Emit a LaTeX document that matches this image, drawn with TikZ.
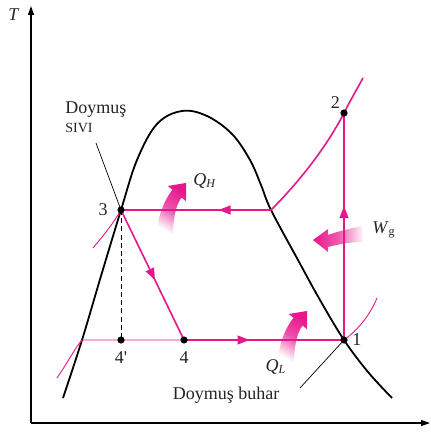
\documentclass[tikz,border=0pt]{standalone}
\usepackage{fontspec}
\setmainfont{Liberation Serif}
\usepackage{xcolor}
\usepackage{tikz}
\usetikzlibrary{arrows.meta,positioning,decorations.markings}
\definecolor{cycpink}{RGB}{231,22,139}
\definecolor{ink}{RGB}{35,35,40}

\tikzset{
  heatflow/.pic={
    \shade[top color=cycpink, bottom color=white, middle color=cycpink!75, shading angle=-30]
      (-13,52) .. controls (-13,37) and (-10.5,22) .. (-4.4,14.6) -- (0.2,18.4) -- (0,0)
      -- (-18.2,3) -- (-13.6,6.8) .. controls (-20,15) and (-29,32) .. (-29,52) -- cycle;
  }
}

\begin{document}
\begin{tikzpicture}[x=0.5pt, y=-0.5pt, font=\fontsize{9}{11}\selectfont,
  cycleline/.style={cycpink, line width=0.8pt},
  isobar/.style={cycpink, line width=0.45pt},
  state/.style={circle, fill=black, inner sep=0pt, minimum size=3.6pt},
  lbl/.style={inner sep=0.5pt, text=ink},
  leader/.style={black, line width=0.35pt},
  axis/.style={black, line width=0.6pt, -{Triangle[length=4.5pt,width=3pt]}},
  midtip/.style={postaction={decorate}, decoration={markings,
    mark=at position #1 with {\arrow{Triangle[length=6pt,width=4.4pt]}}}}]
\useasboundingbox (0,0) rectangle (430,448);
% heat and work arrows, behind the lines
\pic at (186,183) {heatflow};
\pic at (307,311) {heatflow};
\shade[left color=cycpink, right color=white, middle color=cycpink!70]
  (362,226) .. controls (348,229) and (336,232) .. (328,235) -- (328,229) -- (313,240)
  -- (328,252) -- (328,247) .. controls (340,244) and (350,242) .. (364,242) -- cycle;
% axes
\coordinate (o) at (31,423);
\coordinate (ty) at (31,6);
\coordinate (sx) at (430,423);
\draw[axis] (o) -- (ty);
\draw[axis] (o) -- (sx);
\node[lbl] (tlab) at (14,15) {\textit{T}};
% saturation dome
\draw[black, line width=0.9pt] plot[smooth, tension=0.6] coordinates {(63,398) (82,340)
  (101,276) (121,210) (137,160) (157,124) (182,111) (207,116) (232,134) (250,160)
  (261,185) (271,210) (298,260) (320,300) (344,340) (368,372) (392,398)};
% states
\coordinate (s1) at (344,340);
\coordinate (s2) at (344,113);
\coordinate (s3) at (121,210);
\coordinate (s4) at (184,340);
\coordinate (s4p) at (121,340);
\coordinate (g3) at (271,210);
\coordinate (f4) at (82,340);
\coordinate (sh) at (363,78);
% cycle
\draw[cycleline, midtip=0.59] (s1) -- (s2);
\draw[cycleline] (g3) .. controls (296,185) and (325,150) .. (s2)
  .. controls (350,101) and (357,89) .. (sh);
\draw[cycleline, midtip=0.35] (g3) -- (s3);
\draw[cycleline, midtip=0.54] (s3) -- (s4);
\draw[cycleline, midtip=0.41] (s4) -- (s1);
\draw[isobar] (57,378) .. controls (68,362) and (75,348) .. (f4) -- (s4);
\draw[isobar] (93,248) .. controls (103,236) and (113,224) .. (s3);
\draw[isobar] (s1) .. controls (358,330) and (370,315) .. (377,298);
\draw[black, dashed, dash pattern=on 2.5pt off 1.6pt, line width=0.5pt] (s3) -- (s4p);
\foreach \s/\p in {s1/p1, s2/p2, s3/p3, s4/p4, s4p/p4p}
  \node[state] (\p) at (\s) {};
% labels
\node[lbl, left=4pt of p3] {3};
\node[lbl, above left=0pt and 0pt of p2] {2};
\node[lbl, right=1.5pt of p1] {1};
\node[lbl, below=3pt of p4] {4};
\node[lbl, below=3pt of p4p] {4\textquotesingle};
\node[lbl, anchor=north west, align=left] (satliq) at (64,100)
  {Doymuş\\[-1.5pt]{\fontsize{7}{8}\selectfont SIVI}};
\coordinate (ldA) at (96,143);
\draw[leader] (ldA) -- (s3);
\node[lbl] (satvap) at (226,395) {Doymuş buhar};
\coordinate (ldB) at (300,388);
\draw[leader] (ldB) -- (s1);
\node[lbl] (qh) at (205,181) {\textit{Q}\textsubscript{\textit{H}}};
\node[lbl] (ql) at (276,367) {\textit{Q}\textsubscript{\textit{L}}};
\node[lbl] (wg) at (384,230) {\textit{W}\textsubscript{g}};
\end{tikzpicture}
\end{document}
